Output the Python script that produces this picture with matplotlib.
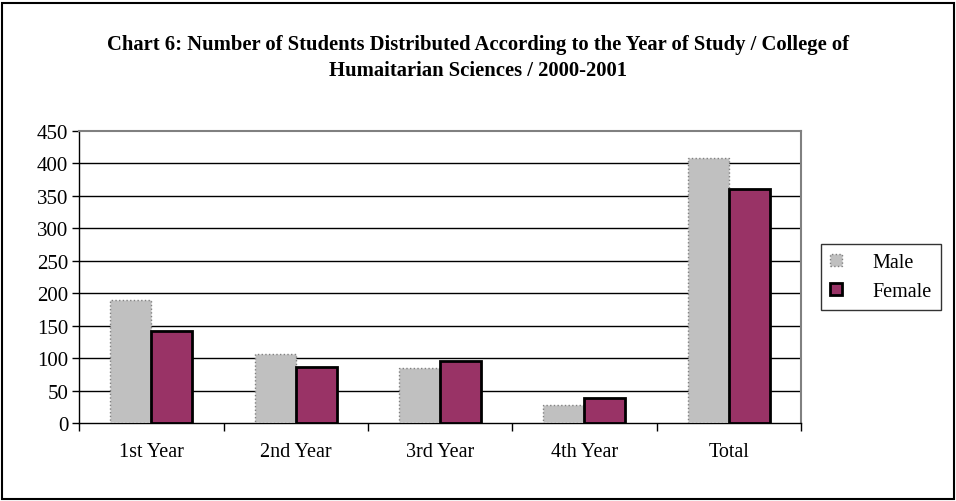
import numpy as np
import matplotlib
matplotlib.use("Agg")
import matplotlib.pyplot as plt
from matplotlib.patches import Rectangle, Patch

# data
categories = ["1st Year", "2nd Year", "3rd Year", "4th Year", "Total"]
male = [189, 106, 85, 28, 408]
female = [142, 86, 95, 38, 361]

plt.rcParams["font.family"] = ["Liberation Serif", "DejaVu Serif"]

W, H = 956, 502
fig = plt.figure(figsize=(W / 100, H / 100), dpi=100)

# frame round the whole chart
fig.patches.append(Rectangle((2 / W, 2 / H), 952 / W, 496 / H, transform=fig.transFigure,
                             fill=False, edgecolor="black", lw=1.5))

ax = fig.add_axes([79.3 / W, (H - 424) / H, (801 - 79.3) / W, (424 - 132) / H])

x = np.arange(len(categories))
w = 0.284
ax.bar(x - w / 2, male, w, color="#C0C0C0", edgecolor="#808080", linestyle=":", lw=1, zorder=3)
ax.bar(x + w / 2, female, w, color="#993366", edgecolor="black", lw=2, zorder=3)

ax.set_xlim(-0.5, len(categories) - 0.5)
ax.set_ylim(0, 450)
ax.set_yticks(np.arange(0, 451, 50))
for v in np.arange(50, 401, 50):
    ax.axhline(v, color="black", lw=1, zorder=1)

ax.set_xticks(np.arange(-0.5, len(categories), 1))
ax.set_xticklabels([])
ax.set_xticks(x, minor=True)
ax.set_xticklabels(categories, minor=True)
ax.tick_params(axis="x", which="major", length=6, direction="out", width=1)
ax.tick_params(axis="x", which="minor", length=0, pad=14, labelsize=14.5)
ax.tick_params(axis="y", length=5, direction="out", width=1, labelsize=15, pad=3)

ax.spines["top"].set_color("#808080")
ax.spines["right"].set_color("#808080")
ax.spines["top"].set_linewidth(1.5)
ax.spines["right"].set_linewidth(1.5)
ax.spines["left"].set_linewidth(1)
ax.spines["bottom"].set_linewidth(1)

handles = [Patch(facecolor="#C0C0C0", edgecolor="#808080", linestyle=":", lw=1),
           Patch(facecolor="#993366", edgecolor="black", lw=2)]
leg = fig.legend(handles, ["Male", "Female"], loc="upper left",
                 bbox_to_anchor=(821 / W, 1 - 245 / H), fontsize=14.5, frameon=True,
                 fancybox=False, edgecolor="black", handlelength=0.6, handleheight=0.6,
                 handletextpad=1.5, borderpad=0.45, labelspacing=0.5, borderaxespad=0)
leg.get_frame().set_linewidth(1)

fig.text(0.5, 1 - 45 / H, "Chart 6: Number of Students Distributed According to the Year of Study / College of",
         ha="center", va="center", fontsize=14.9, fontweight="bold")
fig.text(0.5, 1 - 71 / H, "Humaitarian Sciences / 2000-2001",
         ha="center", va="center", fontsize=14.9, fontweight="bold")

fig.savefig("out.png", dpi=100)
